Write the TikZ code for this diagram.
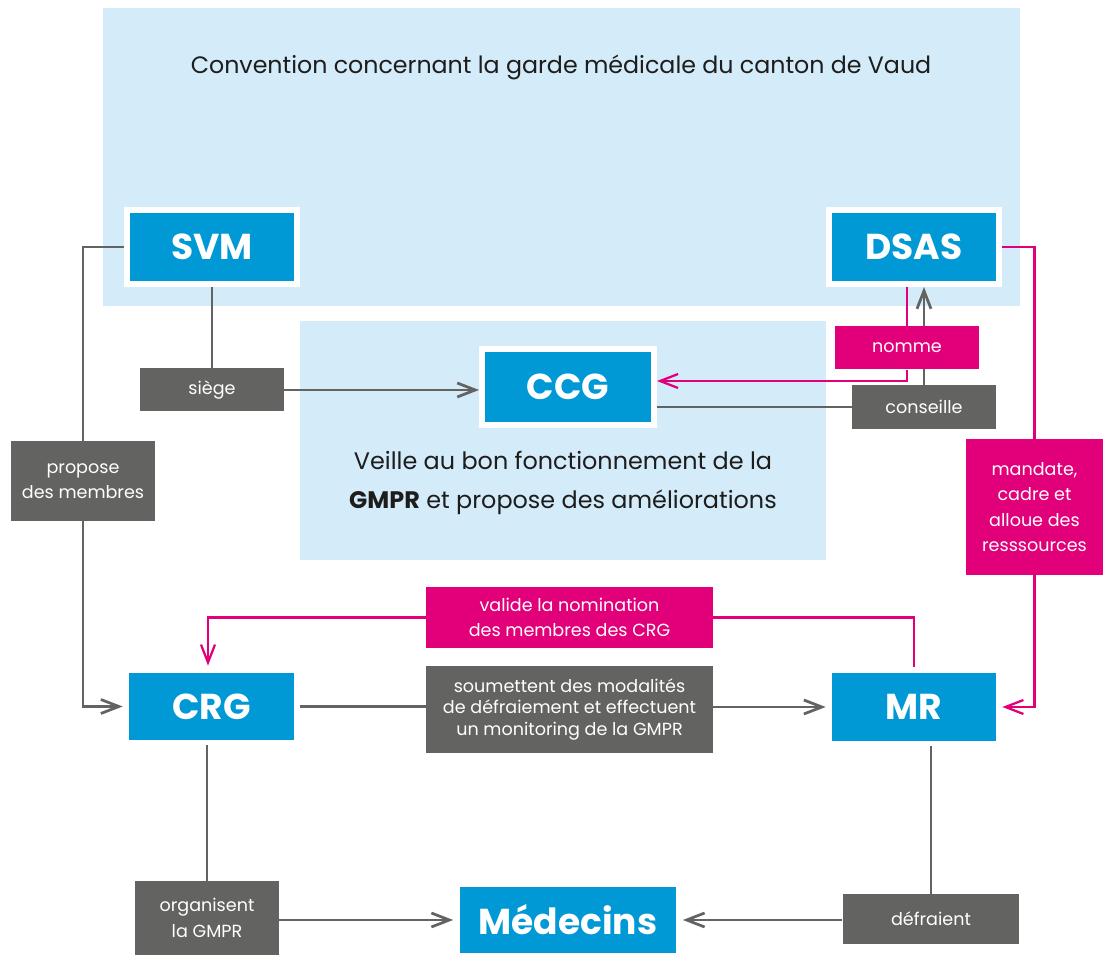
\documentclass[tikz,border=0pt]{standalone}
\usepackage{fontspec}
\setmainfont{Poppins}
\usetikzlibrary{arrows.meta,positioning}

\definecolor{bgblue}{HTML}{D4EBFA}
\definecolor{boxblue}{HTML}{0098D5}
\definecolor{labgray}{HTML}{636362}
\definecolor{vdpink}{HTML}{E2007A}
\definecolor{inkdark}{HTML}{1D1D1B}

\pgfdeclarelayer{back}
\pgfdeclarelayer{wires}
\pgfsetlayers{back,wires,main}

\begin{document}
\begin{tikzpicture}[x=0.02cm,y=-0.02cm,>={Straight Barb[length=3.6mm,width=2.8mm]},
                    font=\fontsize{10}{14.5}\selectfont]
  \tikzstyle{entity}=[fill=boxblue,text=white,inner sep=0pt,
                      font=\bfseries\fontsize{20.5}{24}\selectfont]
  \tikzstyle{framed}=[entity,draw=white,line width=0.12cm]
  \tikzstyle{verb}=[fill=labgray,text=white,align=center,inner sep=0pt,minimum width=2.88cm]
  \tikzstyle{pinkverb}=[verb,fill=vdpink]
  \tikzstyle{wire}=[draw=labgray,line width=0.055cm]
  \tikzstyle{pinkwire}=[draw=vdpink,line width=0.045cm]

  \useasboundingbox (0,0) rectangle (1103,955);

  \begin{pgfonlayer}{back}
    \fill[bgblue] (103,8) rectangle (1020,306);
    \fill[bgblue] (300,321) rectangle (826,560);
  \end{pgfonlayer}

  \node[text=inkdark,font=\fontsize{13.5}{16}\selectfont] (conv) at (561,67)
       {Convention concernant la garde médicale du canton de Vaud};
  \node[text=inkdark,align=center,font=\fontsize{13.6}{22}\selectfont] (veille) at (563,483)
       {Veille au bon fonctionnement de la\\\textbf{GMPR} et propose des améliorations};

  % acteurs
  \node[framed,minimum width=3.4cm,minimum height=1.48cm] (svm) at (212,247) {SVM};
  \node[framed,minimum width=3.4cm,minimum height=1.48cm] (dsas) at (914,247) {DSAS};
  \node[framed,minimum width=3.44cm,minimum height=1.52cm] (ccg) at (568,387) {CCG};
  \node[entity,minimum width=3.3cm,minimum height=1.34cm] (crg) at (211.5,706.5) {CRG};
  \node[entity,minimum width=3.28cm,minimum height=1.36cm] (mr) at (914,707) {MR};
  \node[entity,minimum width=4.34cm,minimum height=1.32cm] (med) at (568,920) {Médecins};

  % liens
  \node[verb,minimum height=0.86cm] (siege) at (212,390) {siège};
  \node[verb,minimum height=1.6cm] (propose) at (83,481) {propose\\des membres};
  \node[pinkverb,minimum height=0.86cm] (nomme) at (907,348) {nomme};
  \node[verb,minimum height=0.88cm] (conseille) at (924,407) {conseille};
  \node[pinkverb,minimum width=2.74cm,minimum height=2.72cm] (mandate) at (1034.5,507)
       {mandate,\\cadre et\\alloue des\\resssources};
  \node[pinkverb,minimum width=5.74cm,minimum height=1.22cm] (valide) at (569.5,617.5)
       {valide la nomination\\des membres des CRG};
  \node[verb,minimum width=5.74cm,minimum height=1.74cm,font=\fontsize{10}{12.2}\selectfont]
       (soumet) at (569.5,709.5)
       {soumettent des modalités\\de défraiement et effectuent\\un monitoring de la GMPR};
  \node[verb,minimum height=1.48cm] (organise) at (207,918) {organisent\\la GMPR};
  \node[verb,minimum width=3.54cm,minimum height=1.0cm] (defraie) at (931,919) {défraient};

  \begin{pgfonlayer}{wires}
    \draw[wire] (svm.west) -| (propose.north);
    \draw[wire,->] (propose.south) |- ([xshift=-0.12cm]crg.west);
    \draw[wire] (svm.south) -- (siege.north);
    \draw[wire,->] (siege.east) -- (siege.east -| ccg.west);
    \draw[wire] (conseille.west) -- (conseille.west -| ccg.east);
    \draw[wire,->] (conseille.north) -- (conseille.north |- dsas.south);
    \draw[pinkwire] (nomme.north) -- (nomme.north |- dsas.south);
    \draw[pinkwire,->] (nomme.south) |- ([yshift=0.12cm]ccg.east);
    \draw[pinkwire] (dsas.east) -| (mandate.north);
    \draw[pinkwire,->] (mandate.south) |- ([xshift=0.12cm]mr.east);
    \draw[pinkwire,shorten <=0.12cm] (mr.north) |- (valide.east);
    \draw[pinkwire,->] (valide.west) -| ([xshift=-0.07cm,yshift=0.14cm]crg.north);
    \draw[wire,shorten <=0.12cm] (crg.east) -- (crg.east -| soumet.west);
    \draw[wire,->] (soumet.east |- mr.west) -- ([xshift=-0.12cm]mr.west);
    \draw[wire,shorten >=0.1cm] (organise.north) -- (organise.north |- crg.south);
    \draw[wire,->] (organise.east |- med.west) -- ([xshift=-0.12cm]med.west);
    \draw[wire,->] (defraie.west |- med.east) -- ([xshift=0.12cm]med.east);
    \draw[wire,shorten >=0.1cm] (defraie.north) -- (defraie.north |- mr.south);
  \end{pgfonlayer}
\end{tikzpicture}
\end{document}
